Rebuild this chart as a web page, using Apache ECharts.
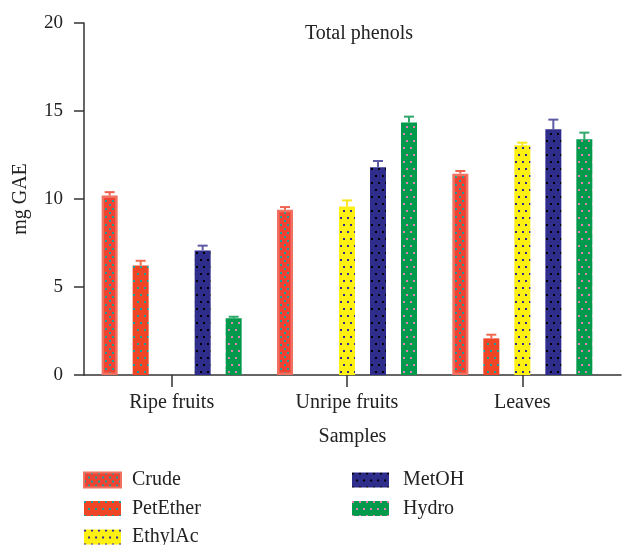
<!DOCTYPE html>
<html>
<head>
<meta charset="utf-8">
<script src="https://cdn.jsdelivr.net/npm/echarts@6/dist/echarts.min.js"></script>
<style>html,body{margin:0;padding:0;background:#fff}#c{width:624px;height:545px}</style>
</head>
<body>
<div id="c"></div>
<script>
// ---- data ----
const categories = ['Ripe fruits', 'Unripe fruits', 'Leaves'];
const seriesNames = ['Crude', 'PetEther', 'EthylAc', 'MetOH', 'Hydro'];
const crude = [10.2, 9.39, 11.44];
const crudeErr = [0.19, 0.15, 0.15];
const petEther = [6.22, null, 2.08];
const petEtherErr = [0.27, null, 0.21];
const ethylAc = [null, 9.58, 13.05];
const ethylAcErr = [null, 0.34, 0.15];
const metOH = [7.08, 11.8, 13.96];
const metOHErr = [0.27, 0.36, 0.55];
const hydro = [3.23, 14.35, 13.39];
const hydroErr = [0.08, 0.33, 0.38];
const yTicks = [0, 5, 10, 15, 20];

// ---- style ----
const FONT = 'Liberation Serif';
const BAR_W = 16, BAR_GAP = 15;
function pattern(bg, dot, w, h, dots) {
  const c = document.createElement('canvas');
  c.width = w; c.height = h;
  const g = c.getContext('2d');
  g.fillStyle = bg; g.fillRect(0, 0, w, h);
  g.fillStyle = dot;
  dots.forEach(d => g.fillRect(d[0], d[1], 2, 2));
  return { image: c, repeat: 'repeat' };
}
const styles = [
  { fill: pattern('#ee4232', '#17a39a', 7, 8, [[0, 0], [4, 4]]), err: '#f0604f', border: '#f2705f', bw: 2.5 },
  { fill: pattern('#ee4526', '#17a39a', 7, 14, [[0, 0], [4, 7]]), err: '#f06a50', border: null, bw: 0 },
  { fill: pattern('#fff014', '#2e2d8c', 7, 14, [[0, 0], [4, 7]]), err: '#f9e71e', border: null, bw: 0 },
  { fill: pattern('#2e2d8c', '#000000', 7, 14, [[0, 0], [4, 7]]), err: '#5d5ba6', border: null, bw: 0 },
  { fill: pattern('#009a4c', '#e57fb4', 7, 14, [[0, 0], [4, 7]]), err: '#2fa86a', border: null, bw: 0 }
];
const values = [crude, petEther, ethylAc, metOH, hydro];
const errs = [crudeErr, petEtherErr, ethylAcErr, metOHErr, hydroErr];

const barSeries = seriesNames.map((n, k) => ({
  name: n, type: 'bar', xAxisIndex: 0, yAxisIndex: 0,
  barWidth: BAR_W, barGap: (BAR_GAP / BAR_W * 100) + '%',
  data: values[k],
  itemStyle: Object.assign({ color: styles[k].fill },
    styles[k].border ? { borderColor: styles[k].border, borderWidth: styles[k].bw } : {}),
  emphasis: { disabled: true },
  z: 2
}));

const errSeries = seriesNames.map((n, k) => ({
  name: 'err_' + n, type: 'custom', xAxisIndex: 0, yAxisIndex: 0,
  data: values[k].map((v, i) => v == null ? null : [i, v, errs[k][i]]).filter(d => d),
  encode: { x: 0, y: 1 },
  z: 3,
  renderItem: function (params, api) {
    const i = api.value(0), v = api.value(1), e = api.value(2);
    const base = api.coord([i, v]);
    const top = api.coord([i, v + e]);
    const x = base[0] + (k - 2) * (BAR_W + BAR_GAP);
    const col = styles[k].err;
    return {
      type: 'group', children: [
        { type: 'line', shape: { x1: x, y1: base[1], x2: x, y2: top[1] }, style: { stroke: col, lineWidth: 2 } },
        { type: 'line', shape: { x1: x - 5, y1: top[1], x2: x + 5, y2: top[1] }, style: { stroke: col, lineWidth: 2 } }
      ]
    };
  }
}));

const chart = echarts.init(document.getElementById('c'), null, { renderer: 'canvas' });
chart.setOption({
  animation: false,
  backgroundColor: '#fff',
  title: {
    text: 'Total phenols', left: 354, top: 19, textAlign: 'center',
    textStyle: { fontFamily: FONT, fontSize: 20, fontWeight: 'normal', color: '#222' }
  },
  grid: [
    { left: 84, top: 23, width: 526, height: 352 },
    { left: 84, top: 23, width: 537, height: 352 }
  ],
  legend: [
    {
      left: 83, top: 470, height: 200, padding: 0, orient: 'vertical', icon: 'rect',
      itemWidth: 37, itemHeight: 15, itemGap: 8.5,
      data: ['Crude', 'PetEther', 'EthylAc'],
      textStyle: { fontFamily: FONT, fontSize: 20, color: '#222', padding: [0, 0, 0, 6] },
      selectedMode: false
    },
    {
      left: 352, top: 470, height: 200, padding: 0, orient: 'vertical', icon: 'rect',
      itemWidth: 37, itemHeight: 15, itemGap: 8.5,
      data: ['MetOH', 'Hydro'],
      textStyle: { fontFamily: FONT, fontSize: 20, color: '#222', padding: [0, 0, 0, 9] },
      selectedMode: false
    }
  ],
  xAxis: [
    {
      type: 'category', gridIndex: 0, data: categories,
      axisLine: { show: false },
      axisTick: { show: true, alignWithLabel: true, length: 12, lineStyle: { color: '#333', width: 1.5 } },
      axisLabel: { fontFamily: FONT, fontSize: 20, color: '#222', margin: 18 }
    },
    {
      type: 'value', gridIndex: 1, min: 0, max: 1,
      axisLine: { show: true, lineStyle: { color: '#333', width: 1.5 } },
      axisTick: { show: false }, axisLabel: { show: false }, splitLine: { show: false },
      name: 'Samples', nameLocation: 'middle', nameGap: 52,
      nameTextStyle: { fontFamily: FONT, fontSize: 20, color: '#222' }
    }
  ],
  yAxis: [
    {
      type: 'value', gridIndex: 0, min: yTicks[0], max: yTicks[yTicks.length - 1], interval: yTicks[1] - yTicks[0],
      axisLine: { show: true, lineStyle: { color: '#333', width: 1.5 } },
      axisTick: { show: true, length: 10, lineStyle: { color: '#333', width: 1.5 } },
      axisLabel: { fontFamily: FONT, fontSize: 19, color: '#222', margin: 21 },
      splitLine: { show: false },
      name: 'mg GAE', nameLocation: 'middle', nameGap: 53,
      nameTextStyle: { fontFamily: FONT, fontSize: 20, color: '#222' }
    },
    { type: 'value', gridIndex: 1, show: false, min: 0, max: 20 }
  ],
  series: barSeries.concat(errSeries)
});
</script>
</body>
</html>
